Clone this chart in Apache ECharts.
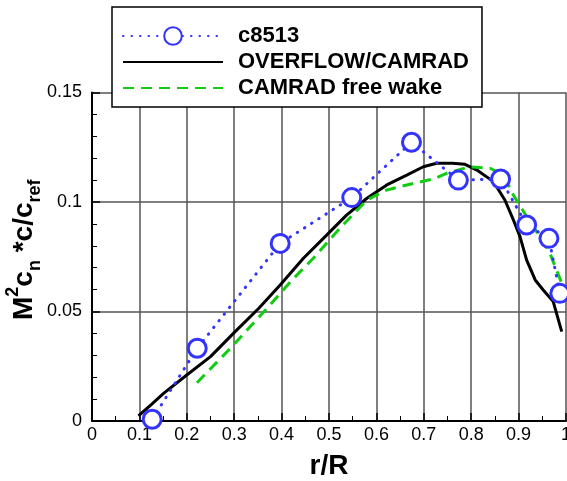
<!DOCTYPE html>
<html>
<head>
<meta charset="utf-8">
<script src="https://cdn.jsdelivr.net/npm/echarts@6/dist/echarts.min.js"></script>
<style>
  html, body { margin: 0; padding: 0; background: #fff; }
  #chart { width: 567px; height: 481px; }
</style>
</head>
<body>
<div id="chart"></div>
<script>
// measured points, c8513
var obsR = [0.127, 0.222, 0.397, 0.548, 0.674, 0.773, 0.862, 0.917, 0.964, 0.987];
var obsV = [0.0008, 0.0332, 0.0811, 0.102, 0.1273, 0.110, 0.1105, 0.0895, 0.0834, 0.0583];

// OVERFLOW/CAMRAD
var overR = [0.098, 0.125, 0.151, 0.2, 0.25, 0.302, 0.352, 0.397, 0.446, 0.495, 0.537, 0.58, 0.622, 0.664,
             0.699, 0.727, 0.76, 0.787, 0.812, 0.847, 0.871, 0.889, 0.903, 0.917, 0.935, 0.952, 0.973, 0.991];
var overV = [0.0023, 0.0075, 0.0126, 0.021, 0.0294, 0.0408, 0.0515, 0.0621, 0.0743, 0.0849, 0.094, 0.1017, 0.1078, 0.1123,
             0.1161, 0.1177, 0.1177, 0.1172, 0.1146, 0.1093, 0.1009, 0.0918, 0.0842, 0.0735, 0.0644, 0.0598, 0.0545, 0.0408];

// CAMRAD free wake
var freeR = [0.2215, 0.295, 0.366, 0.422, 0.467, 0.523, 0.58, 0.622, 0.678, 0.72, 0.748, 0.797, 0.84, 0.868,
             0.889, 0.917, 0.945, 0.966, 0.991];
var freeV = [0.0175, 0.0339, 0.0507, 0.0644, 0.0743, 0.088, 0.1009, 0.1055, 0.1085, 0.1105, 0.1131, 0.1161, 0.1154, 0.1123,
             0.1032, 0.0933, 0.0842, 0.0766, 0.0629];

var seriesNames = ['c8513', 'OVERFLOW/CAMRAD', 'CAMRAD free wake'];

function pairs(xs, ys) {
    return xs.map(function (x, i) { return [x, ys[i]]; });
}

var font = 'Liberation Sans, Arial, sans-serif';
var myChart = echarts.init(document.getElementById('chart'));

var option = {
    animation: false,
    backgroundColor: '#fff',
    grid: { left: 92, right: 1, top: 92.5, bottom: 60, outerBoundsMode: 'none' },
    legend: {
        data: [
            { name: seriesNames[0] },
            { name: seriesNames[1], itemStyle: { opacity: 0 } },
            { name: seriesNames[2], itemStyle: { opacity: 0 } }
        ],
        orient: 'vertical',
        left: 112,
        top: 7,
        padding: [18, 13, 8, 10],
        itemWidth: 100,
        itemHeight: 22,
        itemGap: 4,
        backgroundColor: '#fff',
        borderColor: '#000',
        borderWidth: 1.5,
        textStyle: { fontFamily: font, fontSize: 22, fontWeight: 'bold', color: '#000', padding: [0, 0, 0, 10] }
    },
    xAxis: {
        type: 'value',
        min: 0, max: 1, interval: 0.1,
        name: 'r/R',
        nameLocation: 'middle',
        nameGap: 31,
        nameMoveOverlap: false,
        nameTextStyle: { fontFamily: font, fontSize: 28, fontWeight: 'bold', color: '#000' },
        axisLine: { lineStyle: { color: '#000', width: 2 } },
        axisTick: { inside: true, length: 8, lineStyle: { color: '#000', width: 1.5 } },
        minorTick: { show: true, splitNumber: 2, length: 5, lineStyle: { color: '#000', width: 1 } },
        splitLine: { show: true, lineStyle: { color: '#555', width: 1.5 } },
        axisLabel: { fontFamily: font, fontSize: 18, color: '#000', margin: 5 }
    },
    yAxis: {
        type: 'value',
        min: 0, max: 0.15, interval: 0.05,
        name: '{p| }{b|M}{sup|2}{b|c}{sub|n}{b| *c/c}{sub|ref}',
        nameLocation: 'middle',
        nameRotate: 90,
        nameGap: 48,
        nameMoveOverlap: false,
        nameTextStyle: {
            rich: {
                p: { width: 14, fontSize: 28, lineHeight: 40 },
                b: { fontFamily: font, fontSize: 28, fontWeight: 'bold', color: '#000', lineHeight: 40, verticalAlign: 'middle' },
                sup: { fontFamily: font, fontSize: 18, fontWeight: 'bold', color: '#000', lineHeight: 18, verticalAlign: 'top' },
                sub: { fontFamily: font, fontSize: 18, fontWeight: 'bold', color: '#000', lineHeight: 18, verticalAlign: 'bottom' }
            }
        },
        axisLine: { lineStyle: { color: '#000', width: 2 } },
        axisTick: { inside: true, length: 8, lineStyle: { color: '#000', width: 1.5 } },
        minorTick: { show: true, splitNumber: 5, length: 5, lineStyle: { color: '#000', width: 1 } },
        splitLine: { show: true, lineStyle: { color: '#555', width: 1.5 } },
        axisLabel: { fontFamily: font, fontSize: 18, color: '#000', margin: 10 }
    },
    series: [
        {
            name: seriesNames[0],
            type: 'line',
            z: 5,
            data: pairs(obsR, obsV),
            symbol: 'circle',
            symbolSize: 18,
            itemStyle: { color: '#fff', borderColor: '#3333ff', borderWidth: 3 },
            lineStyle: { color: '#3333ff', width: 3, type: [0.5, 8], cap: 'round' }
        },
        {
            name: seriesNames[1],
            type: 'line',
            z: 3,
            data: pairs(overR, overV),
            showSymbol: false,
            symbol: 'none',
            itemStyle: { color: '#000' },
            lineStyle: { color: '#000', width: 3 }
        },
        {
            name: seriesNames[2],
            type: 'line',
            z: 4,
            data: pairs(freeR, freeV),
            showSymbol: false,
            symbol: 'none',
            itemStyle: { color: '#11cc11' },
            lineStyle: { color: '#11cc11', width: 3, type: [11, 7] }
        }
    ]
};

myChart.setOption(option);
</script>
</body>
</html>
